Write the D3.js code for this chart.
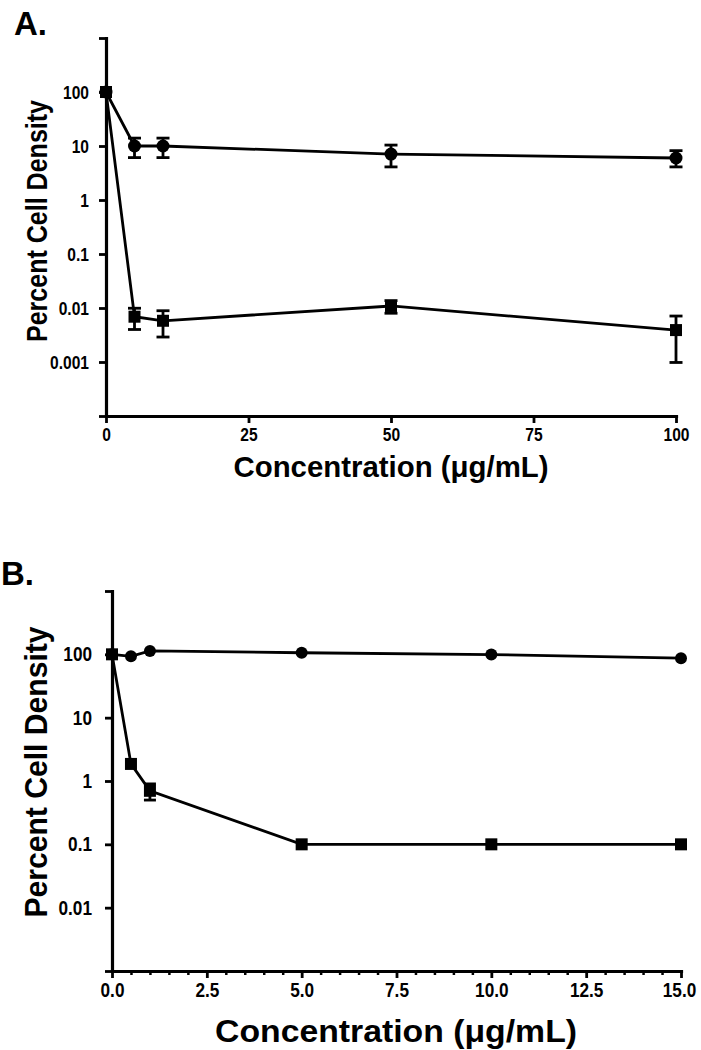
<!DOCTYPE html>
<html>
<head>
<meta charset="utf-8">
<script src="https://cdn.jsdelivr.net/npm/d3@7"></script>
<style>
  html, body { margin: 0; padding: 0; background: #fff; }
  svg { display: block; }
  text { font-family: "Liberation Sans", Arial, Helvetica, sans-serif; font-weight: bold; fill: #000; }
</style>
</head>
<body>
<svg id="chart" width="701" height="1050"></svg>
<script>
// ---------------- Panel A data ----------------
const concA = [0, 5, 10, 50, 100];
const circA = [100, 10, 10, 7.1, 6.0];
const circAlo = [null, 6.1, 6.1, 4.1, 4.1];
const circAhi = [null, 14, 14, 10.4, 8.2];
const sqA = [100, 0.0069, 0.0058, 0.0109, 0.0039];
const sqAlo = [null, 0.0040, 0.0029, 0.0080, 0.00098];
const sqAhi = [null, 0.0099, 0.0089, 0.0137, 0.0071];
const xTicksA = [0, 25, 50, 75, 100];
const yTicksA = [0.0001, 0.001, 0.01, 0.1, 1, 10, 100, 1000];
const yLabelsA = ["", "0.001", "0.01", "0.1", "1", "10", "100", ""];

// ---------------- Panel B data ----------------
const concB = [0, 0.5, 1, 5, 10, 15];
const circB = [100, 93, 113, 106, 99, 87];
const sqB = [100, 1.86, 0.7, 0.1, 0.1, 0.1];
const sqBlo = [null, null, 0.5, null, null, null];
const sqBhi = [null, null, 0.9, null, null, null];
const xTicksB = [0, 2.5, 5, 7.5, 10, 12.5, 15];
const xLabelsB = ["0.0", "2.5", "5.0", "7.5", "10.0", "12.5", "15.0"];
const yTicksB = [0.001, 0.01, 0.1, 1, 10, 100, 1000];
const yLabelsB = ["", "0.01", "0.1", "1", "10", "100", ""];

const svg = d3.select("#chart");
svg.append("rect").attr("width", 701).attr("height", 1050).attr("fill", "#fff");

function panel(cfg) {
  const g = svg.append("g");
  const x = d3.scaleLinear().domain(cfg.xDomain).range(cfg.xRange);
  const y = d3.scaleLog().domain(cfg.yDomain).range(cfg.yRange);

  const xAxis = d3.axisBottom(x).tickValues(cfg.xTicks)
    .tickFormat((d, i) => cfg.xLabels[i]).tickSize(7).tickPadding(5).tickSizeOuter(0);
  const gx = g.append("g").attr("transform", `translate(0,${cfg.yRange[0]})`).call(xAxis);
  if (cfg.xMinor) {
    const minor = d3.axisBottom(x).tickValues(cfg.xMinor).tickFormat("").tickSize(4).tickSizeOuter(0);
    g.append("g").attr("transform", `translate(0,${cfg.yRange[0]})`).call(minor)
      .call(s => s.select(".domain").remove())
      .selectAll("line").attr("stroke", "#000").attr("stroke-width", 2.5);
  }
  const yAxis = d3.axisLeft(y).tickValues(cfg.yTicks)
    .tickFormat((d, i) => cfg.yLabels[i]).tickSize(7).tickPadding(cfg.yPad).tickSizeOuter(0);
  const gy = g.append("g").attr("transform", `translate(${cfg.xRange[0]},0)`).call(yAxis);

  [gx, gy].forEach(a => {
    a.select(".domain").attr("stroke", "#000").attr("stroke-width", 3.2).attr("stroke-linecap", "square");
    a.selectAll(".tick line").attr("stroke", "#000").attr("stroke-width", 2.8);
    a.selectAll(".tick text").style("font-size", cfg.tickFont + "px")
      .style("font-family", '"Liberation Sans", Arial, sans-serif').style("font-weight", "bold")
      .attr("fill", "#000")
      .each(function () {
        const w = this.getComputedTextLength();
        if (w > 0) d3.select(this).attr("textLength", w * cfg.tickSqueeze).attr("lengthAdjust", "spacingAndGlyphs");
      });
  });
  if (cfg.lastRight) {
    // keep the last x label inside the page edge
    const t = gx.selectAll(".tick text").filter((d, i, n) => i === n.length - 1);
    const w = +t.attr("textLength");
    t.attr("text-anchor", "end").attr("x", w / 2 - 2);
  }

  const line = d3.line().x(d => x(d[0])).y(d => y(d[1]));

  function series(xs, ys, lo, hi, shape) {
    const pts = xs.map((v, i) => [v, ys[i]]);
    g.append("path").datum(pts).attr("d", line)
      .attr("fill", "none").attr("stroke", "#000").attr("stroke-width", 2.8);
    if (lo) {
      xs.forEach((v, i) => {
        if (lo[i] == null) return;
        const cx = x(v), y1 = y(lo[i]), y2 = y(hi[i]);
        g.append("line").attr("x1", cx).attr("x2", cx).attr("y1", y1).attr("y2", y2)
          .attr("stroke", "#000").attr("stroke-width", 2.8);
        [y1, y2].forEach(yy => g.append("line")
          .attr("x1", cx - cfg.cap).attr("x2", cx + cfg.cap).attr("y1", yy).attr("y2", yy)
          .attr("stroke", "#000").attr("stroke-width", 2.8));
      });
    }
    if (shape === "circle") {
      g.selectAll(null).data(pts).enter().append("circle")
        .attr("cx", d => x(d[0])).attr("cy", d => y(d[1])).attr("r", cfg.r).attr("fill", "#000");
    } else {
      g.selectAll(null).data(pts).enter().append("rect")
        .attr("x", d => x(d[0]) - cfg.sq / 2).attr("y", d => y(d[1]) - cfg.sq / 2)
        .attr("width", cfg.sq).attr("height", cfg.sq).attr("fill", "#000");
    }
  }
  series(cfg.cx, cfg.cy, cfg.clo, cfg.chi, "circle");
  series(cfg.sx, cfg.sy, cfg.slo, cfg.shi, "square");

  g.append("text").attr("x", cfg.labelPos[0]).attr("y", cfg.labelPos[1])
    .style("font-size", "33px").text(cfg.label);
  g.append("text").attr("x", cfg.xTitlePos[0]).attr("y", cfg.xTitlePos[1])
    .attr("text-anchor", "middle").style("font-size", cfg.titleFont + "px")
    .attr("textLength", cfg.xTitleLen).attr("lengthAdjust", "spacingAndGlyphs")
    .text("Concentration (\u03BCg/mL)");
  g.append("text").attr("transform", `translate(${cfg.yTitlePos[0]},${cfg.yTitlePos[1]}) rotate(-90)`)
    .attr("text-anchor", "middle").style("font-size", cfg.titleFont + "px")
    .attr("textLength", cfg.yTitleLen).attr("lengthAdjust", "spacingAndGlyphs")
    .text("Percent Cell Density");
}

panel({
  xDomain: [0, 100], xRange: [106, 676],
  yDomain: [0.0001, 1000], yRange: [416, 38],
  xTicks: xTicksA, xLabels: xTicksA.map(String),
  yTicks: yTicksA, yLabels: yLabelsA, yPad: 10, tickFont: 19, tickSqueeze: 0.82,
  cx: concA, cy: circA, clo: circAlo, chi: circAhi,
  sx: concA, sy: sqA, slo: sqAlo, shi: sqAhi,
  r: 6.5, sq: 12, cap: 6.5,
  label: "A.", labelPos: [14, 35],
  titleFont: 30, xTitlePos: [391, 477], xTitleLen: 315,
  yTitlePos: [47, 221], yTitleLen: 242
});

panel({
  xDomain: [0, 15], xRange: [112, 681],
  yDomain: [0.001, 1000], yRange: [971, 591],
  xTicks: xTicksB, xLabels: xLabelsB, xMinor: d3.range(0, 15.001, 0.5).filter(v => v % 2.5 !== 0),
  yTicks: yTicksB, yLabels: yLabelsB, yPad: 13, tickFont: 20, tickSqueeze: 0.86,
  lastRight: true,
  cx: concB, cy: circB, clo: null, chi: null,
  sx: concB, sy: sqB, slo: sqBlo, shi: sqBhi,
  r: 6, sq: 12, cap: 6,
  label: "B.", labelPos: [1, 585],
  titleFont: 32, xTitlePos: [396, 1042], xTitleLen: 362,
  yTitlePos: [47, 772], yTitleLen: 291
});
</script>
</body>
</html>
